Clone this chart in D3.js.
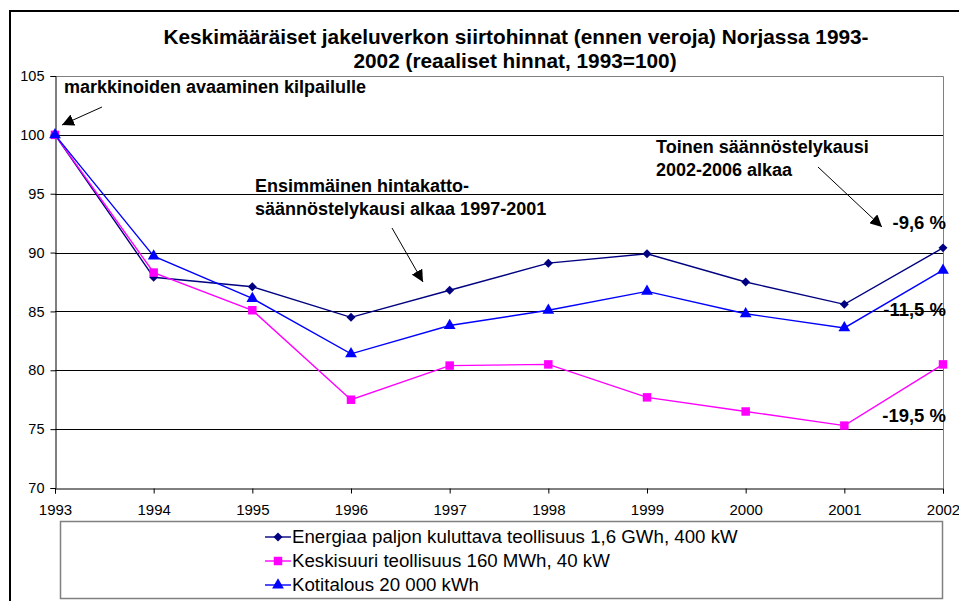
<!DOCTYPE html>
<html>
<head>
<meta charset="utf-8">
<script src="https://cdn.jsdelivr.net/npm/d3@7"></script>
<style>
  body { margin: 0; background: #fff; }
  svg { display: block; font-family: Arial, "Liberation Sans", sans-serif; }
</style>
</head>
<body>
<script>
'use strict';

// Data
var years = [1993, 1994, 1995, 1996, 1997, 1998, 1999, 2000, 2001, 2002];
var energiaa = [100, 87.9, 87.1, 84.5, 86.8, 89.1, 89.9, 87.5, 85.6, 90.4];
var keskisuuri = [100, 88.3, 85.1, 77.5, 80.4, 80.5, 77.7, 76.5, 75.3, 80.5];
var kotitalous = [100, 89.7, 86.1, 81.4, 83.8, 85.1, 86.7, 84.8, 83.6, 88.5];
var seriesNames = [
  "Energiaa paljon kuluttava teollisuus 1,6 GWh, 400 kW",
  "Keskisuuri teollisuus 160 MWh, 40 kW",
  "Kotitalous 20 000 kWh"
];
var yTicks = [70, 75, 80, 85, 90, 95, 100, 105];
var changeLabels = ["-9,6 %", "-11,5 %", "-19,5 %"];

(function() {

  var width = 959;
  var height = 601;
  var font = "Arial, 'Liberation Sans', sans-serif";

  var svg = d3.select("body")
      .append("svg")
      .attr("width", width)
      .attr("height", height);

  // outer chart frame (cut at the right and bottom)
  svg.append("path")
      .attr("d", "M10," + height + " V11 H" + width)
      .attr("fill", "none")
      .attr("stroke", "#000")
      .attr("stroke-width", 2);

  // Title
  var title = svg.append("text")
      .attr("text-anchor", "middle")
      .attr("font-weight", "bold")
      .attr("font-size", 20.8);
  title.append("tspan").attr("x", 516).attr("y", 44)
      .text("Keskimääräiset jakeluverkon siirtohinnat (ennen veroja) Norjassa 1993-");
  title.append("tspan").attr("x", 515).attr("y", 68)
      .text("2002 (reaaliset hinnat, 1993=100)");

  // plot area
  var left = 55, right = 943, top = 76, bottom = 488;

  var x = d3.scaleLinear().domain([1993, 2002]).range([left, right]);
  var y = d3.scaleLinear().domain([70, 105]).range([bottom, top]);

  // plot border (gray) top and right
  svg.append("path")
      .attr("d", "M" + left + "," + (top + 0.5) + " H" + (right + 0.5) + " V" + bottom)
      .attr("fill", "none")
      .attr("stroke", "#808080")
      .attr("stroke-width", 1);

  // Gridlines
  svg.append("g")
      .selectAll("line")
      .data(yTicks.filter(function(d) { return d > 70 && d < 105; }))
      .enter()
      .append("line")
      .attr("x1", left)
      .attr("x2", right)
      .attr("y1", function(d) { return Math.round(y(d)) + 0.5; })
      .attr("y2", function(d) { return Math.round(y(d)) + 0.5; })
      .attr("stroke", "#000")
      .attr("stroke-width", 1);

  // Axes
  var yAxis = d3.axisLeft(y)
      .tickValues(yTicks)
      .tickSize(5)
      .tickPadding(6);
  var gy = svg.append("g")
      .attr("transform", "translate(" + (left + 0.5) + ",0)")
      .call(yAxis);
  gy.selectAll("text").attr("font-size", 14.5).attr("font-family", font).attr("fill", "#000");

  var xAxis = d3.axisBottom(x)
      .tickValues(years)
      .tickFormat(d3.format("d"))
      .tickSize(5)
      .tickPadding(11);
  var gx = svg.append("g")
      .attr("transform", "translate(0," + (bottom + 0.5) + ")")
      .call(xAxis);
  gx.selectAll("text").attr("font-size", 15).attr("font-family", font).attr("fill", "#000");
  svg.selectAll(".domain").attr("stroke", "#000");

  // Series (diamond = square turned 45 degrees)
  var series = [
    { name: seriesNames[0], values: energiaa, color: "#000080", marker: d3.symbolSquare, size: 40, rot: 45 },
    { name: seriesNames[1], values: keskisuuri, color: "#FF00FF", marker: d3.symbolSquare, size: 72, rot: 0 },
    { name: seriesNames[2], values: kotitalous, color: "#0000FF", marker: d3.symbolTriangle, size: 60, rot: 0 }
  ];

  var line = d3.line()
      .x(function(d, i) { return x(years[i]); })
      .y(function(d) { return y(d); });

  series.forEach(function(s) {
    var g = svg.append("g");
    g.append("path")
        .datum(s.values)
        .attr("fill", "none")
        .attr("stroke", s.color)
        .attr("stroke-width", 1.4)
        .attr("d", line);
    g.selectAll(".m")
        .data(s.values)
        .enter()
        .append("path")
        .attr("transform", function(d, i) {
          return "translate(" + x(years[i]) + "," + y(d) + ") rotate(" + s.rot + ")";
        })
        .attr("d", d3.symbol().type(s.marker).size(s.size))
        .attr("fill", s.color);
  });

  // Annotations
  var defs = svg.append("defs");
  defs.append("marker")
      .attr("id", "arrow")
      .attr("viewBox", "0 0 10 10")
      .attr("refX", 10)
      .attr("refY", 5)
      .attr("markerWidth", 12)
      .attr("markerHeight", 12)
      .attr("markerUnits", "userSpaceOnUse")
      .attr("orient", "auto")
      .append("path")
      .attr("d", "M0,0 L10,5 L0,10 z")
      .attr("fill", "#000");

  function note(lines, tx, ty) {
    var t = svg.append("text")
        .attr("font-weight", "bold")
        .attr("font-size", 18)
        .attr("fill", "#000");
    lines.forEach(function(l, i) {
      t.append("tspan").attr("x", tx).attr("y", ty + i * 22.5).text(l);
    });
  }
  function arrow(x1, y1, x2, y2) {
    svg.append("line")
        .attr("x1", x1).attr("y1", y1)
        .attr("x2", x2).attr("y2", y2)
        .attr("stroke", "#000")
        .attr("stroke-width", 1)
        .attr("marker-end", "url(#arrow)");
  }

  note(["markkinoiden avaaminen kilpailulle"], 64, 93);
  arrow(102, 107, 62, 125);

  note(["Ensimmäinen hintakatto-", "säännöstelykausi alkaa 1997-2001"], 255, 192);
  arrow(392, 228, 423, 282);

  note(["Toinen säännöstelykausi", "2002-2006 alkaa"], 656, 153);
  arrow(818, 167, 882, 227);

  var changeY = [229, 316, 422];
  svg.append("g")
      .selectAll("text")
      .data(changeLabels)
      .enter()
      .append("text")
      .attr("x", 946)
      .attr("y", function(d, i) { return changeY[i]; })
      .attr("text-anchor", "end")
      .attr("font-weight", "bold")
      .attr("font-size", 18.5)
      .text(function(d) { return d; });

  // Legend
  var legend = svg.append("g");
  legend.append("rect")
      .attr("x", 60.5)
      .attr("y", 521.5)
      .attr("width", 882)
      .attr("height", 77)
      .attr("fill", "#fff")
      .attr("stroke", "#808080")
      .attr("stroke-width", 1.5);

  series.forEach(function(s, i) {
    var ly = 537 + i * 24;
    legend.append("line")
        .attr("x1", 265).attr("x2", 291)
        .attr("y1", ly).attr("y2", ly)
        .attr("stroke", s.color)
        .attr("stroke-width", 1.4);
    legend.append("path")
        .attr("transform", "translate(278," + ly + ") rotate(" + s.rot + ")")
        .attr("d", d3.symbol().type(s.marker).size(s.size))
        .attr("fill", s.color);
    legend.append("text")
        .attr("x", 292)
        .attr("y", ly + 6)
        .attr("font-size", 18.7)
        .text(s.name);
  });

})();
</script>
</body>
</html>
